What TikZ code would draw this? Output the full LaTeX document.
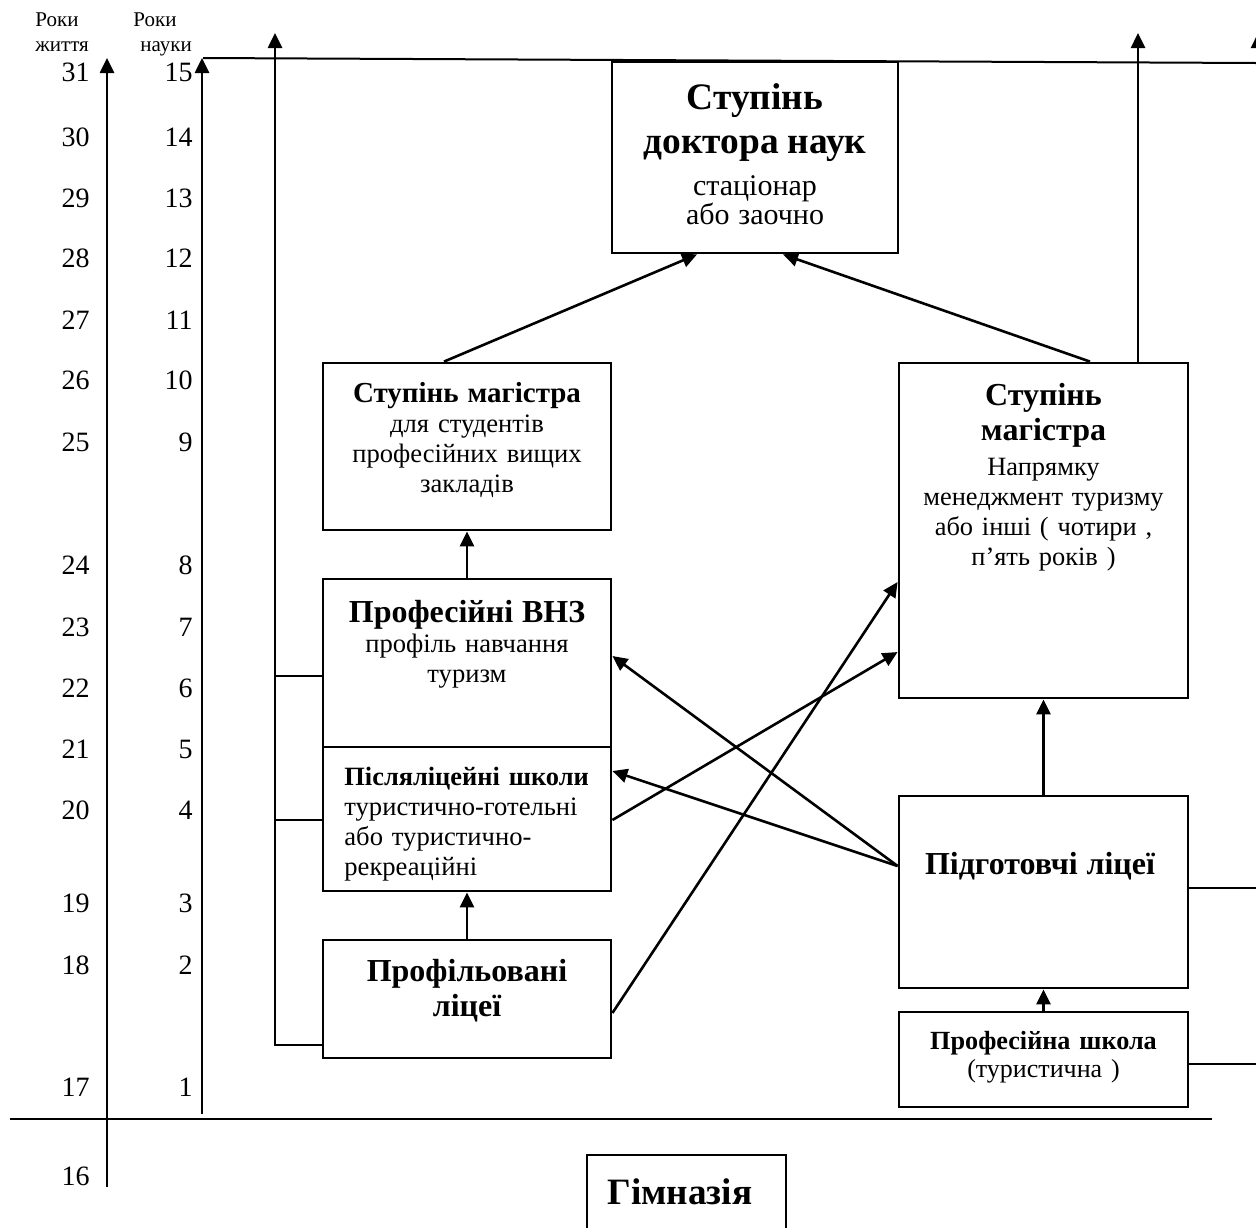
\documentclass[tikz,border=0pt]{standalone}
\usepackage{fontspec}
\setmainfont{Liberation Serif}
\usetikzlibrary{arrows.meta}

\newcommand{\bighead}{\fontsize{18.7}{22}\selectfont\bfseries}
\newcommand{\midhead}{\fontsize{16}{17.5}\selectfont\bfseries}
\newcommand{\smallhead}{\fontsize{14}{15}\selectfont\bfseries}
\newcommand{\plain}{\fontsize{13.3}{15}\selectfont}

\tikzset{
  box/.style={draw, line width=1.4pt, inner sep=0pt},
  arr/.style={line width=1.3pt, -{Triangle[length=7.5pt,width=7pt]}},
  ln/.style={line width=1pt},
  txt/.style={anchor=north, align=center, inner sep=0pt, font=\plain},
  num/.style={anchor=east, inner sep=0pt, font=\fontsize{14}{15}\selectfont},
  lbl/.style={anchor=north west, align=left, inner sep=0pt, font=\fontsize{10.5}{12.5}\selectfont},
}

\begin{document}
\begin{tikzpicture}[x=0.5pt,y=-0.5pt]
        \useasboundingbox (0,0) rectangle (1256,1227);

        % axes
        \coordinate (lifetop) at (107,58);
        \coordinate (scitop) at (202,58);
        \draw[arr] (107,1187) -- (lifetop);
        \draw[arr] (202,1114) -- (scitop);
        \draw[ln] (10,1119) -- (1212,1119);
        \draw[ln] (203,58) -- (1256,63);
        \node[lbl] (lifelbl) at (35,12) {Роки\\життя};
        \node[lbl] (scilbl) at (133,12) {Роки\\\hspace*{3.5pt}науки};

        \foreach \a/\b/\y in {31/15/72, 30/14/137, 29/13/198, 28/12/258, 27/11/320, 26/10/380, 25/9/442,
                24/8/565, 23/7/627, 22/6/688, 21/5/749, 20/4/810, 19/3/903, 18/2/965, 17/1/1087}
        {
          \node[num] (life\a) at (90,\y) {\a};
          \node[num] (sci\b) at (193,\y) {\b};
        }
        \node[num] (life16) at (90,1176) {16};

        % boxes
        \node[box, minimum width=143pt, minimum height=95.5pt] (doc) at (755,157.5) {};
        \node[box, minimum width=144pt, minimum height=83.5pt] (magL) at (467,446.5) {};
        \node[box, minimum width=144pt, minimum height=84pt] (vnz) at (467,663) {};
        \node[box, minimum width=144pt, minimum height=72pt] (post) at (467,819) {};
        \node[box, minimum width=144pt, minimum height=59pt] (prof) at (467,999) {};
        \node[box, minimum width=144.5pt, minimum height=167.5pt] (magR) at (1043.5,530.5) {};
        \node[box, minimum width=144.5pt, minimum height=96pt] (pidg) at (1043.5,892) {};
        \node[box, minimum width=144.5pt, minimum height=47.5pt] (pshk) at (1043.5,1059.5) {};
        \node[box, minimum width=99.5pt, minimum height=42.5pt] (gym) at (686.5,1197.5) {};

        % texts
        \node[txt, text width=140pt] (doctxt) at (755,83)
          {{\bighead Ступінь\par доктора наук\par}\vspace{6.5pt}{\fontsize{15}{14.5}\selectfont стаціонар\par або заочно\par}};
        \node[txt, text width=140pt] (magLtxt) at (467,382)
          {{\fontsize{14.5}{15}\selectfont\bfseries Ступінь магістра\par}{\plain для студентів\par професійних вищих\par закладів\par}};
        \node[txt, text width=140pt] (vnztxt) at (467,600)
          {{\midhead Професійні ВНЗ\par}{\plain профіль навчання\par туризм\par}};
        \node[txt, anchor=north west, align=left, text width=135pt] (posttxt) at (344,767)
          {{\fontsize{13.2}{15}\selectfont\bfseries Післяліцейні школи\par}{\plain туристично-готельні\par або туристично-\par рекреаційні\par}};
        \node[txt, text width=140pt] (proftxt) at (467,959)
          {{\midhead Профільовані\par ліцеї\par}};
        \node[txt, text width=140pt] (magRtxt) at (1043.5,383)
          {{\midhead Ступінь\par магістра\par}\vspace{2.5pt}{\fontsize{13.2}{15}\selectfont Напрямку\par менеджмент туризму\par або інші ( чотири ,\par п’ять років )\par}};
        \node[txt, text width=140pt] (pidgtxt) at (1040,852) {{\midhead Підготовчі ліцеї\par}};
        \node[txt, text width=140pt] (pshktxt) at (1043.5,1031)
          {{\fontsize{13.1}{14}\selectfont\bfseries Професійна школа\par}{\fontsize{13}{14}\selectfont (туристична )\par}};
        \node[txt, text width=95pt] (gymtxt) at (680,1178) {{\fontsize{18.6}{20}\selectfont\bfseries Гімназія\par}};

        % connectors
        \draw[arr] (magL.north -| 444,0) -- (doc.south -| 697,0);
        \draw[arr] (magR.north -| 1090,0) -- (doc.south -| 783,0);
        \draw[arr] (vnz.north) -- (magL.south);
        \draw[arr] (prof.north) -- (post.south);
        \draw[arr] (pidg.north) -- (magR.south);
        \draw[arr] (pshk.north) -- (pidg.south);
        \draw[arr] (prof.east |- 0,1013) -- (magR.west |- 0,582);
        \draw[arr] (post.east |- 0,820) -- (magR.west |- 0,652);
        \draw[arr] (pidg.west |- 0,866) -- (vnz.east |- 0,656);
        \draw[arr] (pidg.west |- 0,866) -- (post.east |- 0,771);
        \draw[arr] (magR.north -| 1138,0) -- (1138,33);

        % side lines
        \draw[arr] (prof.west |- 0,1045) -- (275,1045) -- (275,33);
        \draw[ln] (vnz.west |- 0,676) -- (275,676);
        \draw[ln] (post.west |- 0,820) -- (275,820);
        \draw[ln] (pidg.east |- 0,888) -- (1258,888);
        \draw[ln] (pshk.east |- 0,1064) -- (1258,1064);
        \draw[arr] (1258,1064) -- (1258,33);
\end{tikzpicture}
\end{document}
